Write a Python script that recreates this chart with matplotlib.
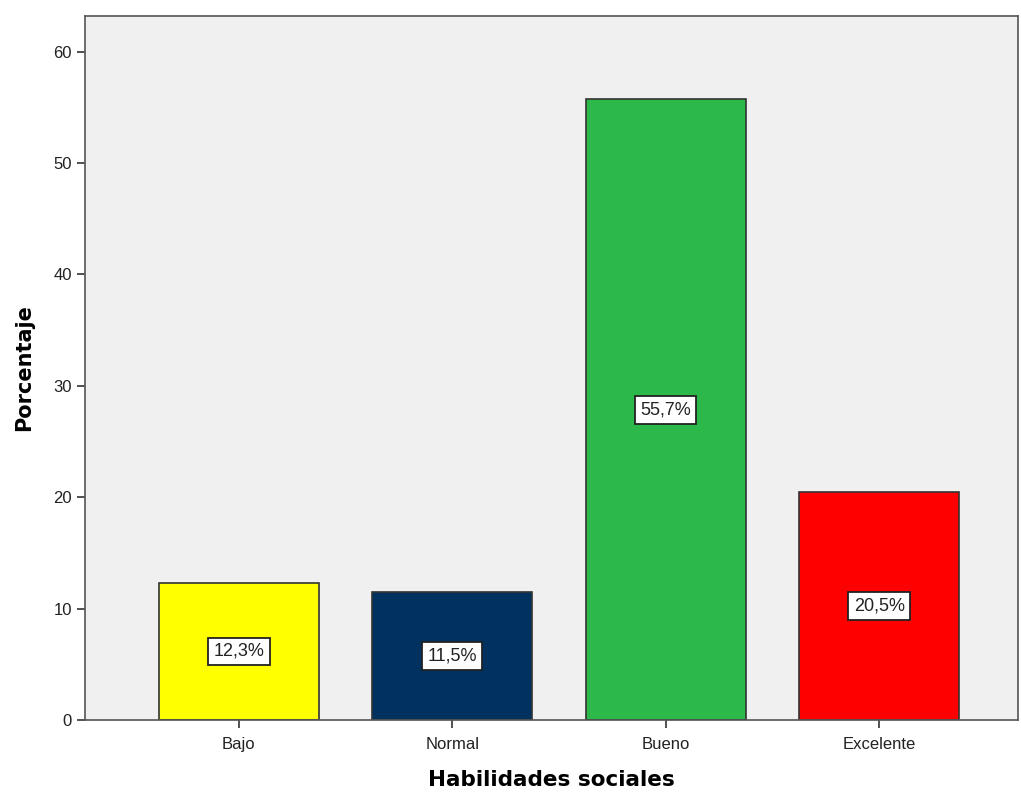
import matplotlib
matplotlib.use("Agg")
import matplotlib.pyplot as plt

# datos del grafico
categorias = ["Bajo", "Normal", "Bueno", "Excelente"]
porcentajes = [12.3, 11.5, 55.7, 20.5]
etiquetas = ["12,3%", "11,5%", "55,7%", "20,5%"]
colores = ["#FFFF00", "#00315F", "#2DB84A", "#FF0000"]
yticks = [0, 10, 20, 30, 40, 50, 60]

plt.rcParams['font.family'] = ['Liberation Sans', 'DejaVu Sans']

fig = plt.figure(figsize=(10.21, 7.94), dpi=100)
ax = fig.add_axes([0.0833, 0.0932, 0.9137, 0.8868])
ax.set_facecolor("#F0F0F0")

x = list(range(len(categorias)))
ax.bar(x, porcentajes, width=0.75, color=colores, edgecolor="#333333", linewidth=1.2, zorder=2)

# etiquetas dentro de las barras
for xi, v, lab in zip(x, porcentajes, etiquetas):
    ax.text(xi, v / 2, lab, ha="center", va="center", fontsize=13, color="#222222", zorder=3,
            bbox=dict(boxstyle="square,pad=0.3", facecolor="white", edgecolor="#222222", linewidth=1.3))

ax.set_xlim(-0.72, 3.65)
ax.set_ylim(0, 63.2)
ax.set_xticks(x)
ax.set_xticklabels(categorias, fontsize=12, color="#222222")
ax.set_yticks(yticks)
ax.set_yticklabels([str(t) for t in yticks], fontsize=12, color="#222222")
ax.tick_params(axis="both", direction="out", length=6, width=1.2, color="#333333")
ax.tick_params(axis="x", pad=6)

for s in ["left", "bottom", "top", "right"]:
    ax.spines[s].set_color("#555555")
    ax.spines[s].set_linewidth(1.2)

ax.set_xlabel("Habilidades sociales", fontsize=15.5, fontweight="bold", family="DejaVu Sans", labelpad=13)
ax.set_ylabel("Porcentaje", fontsize=15, fontweight="bold", family="DejaVu Sans", labelpad=14)

plt.savefig("out.png", dpi=100)
